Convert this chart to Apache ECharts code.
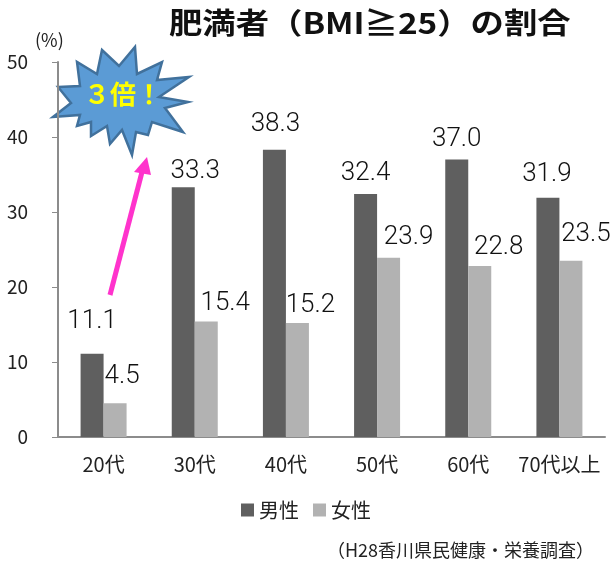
<!DOCTYPE html>
<html>
<head>
<meta charset="utf-8">
<style>html,body{margin:0;padding:0;background:#fff}#main{width:611px;height:565px}</style>
<script src="https://cdn.jsdelivr.net/npm/echarts@6/dist/echarts.min.js"></script>
</head>
<body>
<div id="main"></div>
<script>
let categories = ['20代', '30代', '40代', '50代', '60代', '70代以上'];
let maleValues = [11.1, 33.3, 38.3, 32.4, 37.0, 31.9];
let femaleValues = [4.5, 15.4, 15.2, 23.9, 22.8, 23.5];

// hand placed label nudges, the original labels were moved around by hand
let maleNudge = [[0, -15], [12, 1], [1, -8], [0, -4], [0, -3], [-1, -6]];
let femaleNudge = [[7, -10], [19, -1], [13, -1], [20, -3], [19, -2], [15, -9]];

let font = '"Noto Sans CJK JP"';
let myChart = echarts.init(document.getElementById('main'), null, { renderer: 'canvas' });

function seriesData(values, nudge) {
  return values.map(function (v, i) {
    return { value: v, label: { offset: nudge[i] } };
  });
}

let barLabel = {
  show: true,
  position: 'top',
  distance: 4,
  fontFamily: 'Roboto',
  fontWeight: 300,
  fontSize: 26,
  color: '#111',
  formatter: function (p) { return p.value.toFixed(1); }
};

// star burst outline
let starPoints = [[58, 87], [80, 86], [77, 62], [97, 74], [102, 50], [119, 66], [135, 47], [137, 74],
  [162, 62], [157, 80], [189, 77], [159, 97], [188, 102], [165, 108], [183, 132], [152, 122],
  [148, 135], [136, 132], [132, 155], [122, 130], [110, 144], [107, 126], [91, 136], [91, 122],
  [77, 126], [80, 115], [53, 117], [71, 103]];

let option = {
  animation: false,
  legend: {
    data: ['男性', '女性'],
    left: 241,
    top: 500,
    padding: 0,
    itemWidth: 13,
    itemHeight: 13,
    itemGap: 14,
    icon: 'rect',
    textStyle: { fontFamily: font, fontSize: 20, color: '#222' }
  },
  grid: { left: 58, right: 6, top: 62, bottom: 128 },
  xAxis: {
    type: 'category',
    data: categories,
    axisLine: { lineStyle: { color: '#8c8c8c', width: 2 } },
    axisTick: { length: 6, lineStyle: { color: '#8c8c8c' } },
    axisLabel: { fontFamily: font, fontSize: 20, color: '#222', margin: 17, interval: 0 }
  },
  yAxis: {
    type: 'value',
    min: 0,
    max: 50,
    interval: 10,
    splitLine: { show: false },
    axisLine: { show: true, lineStyle: { color: '#8c8c8c', width: 2 } },
    axisTick: { show: true, length: 6, lineStyle: { color: '#8c8c8c' } },
    axisLabel: { fontFamily: font, fontSize: 19, color: '#222', margin: 30 }
  },
  series: [
    {
      name: '男性', type: 'bar', data: seriesData(maleValues, maleNudge),
      itemStyle: { color: '#5f5f5f' }, barWidth: 23, barGap: '0%', label: barLabel
    },
    {
      name: '女性', type: 'bar', data: seriesData(femaleValues, femaleNudge),
      itemStyle: { color: '#b2b2b2' }, barWidth: 23, barGap: '0%', label: barLabel
    }
  ],
  graphic: [
    { type: 'text', x: 169, y: 8, scaleX: 1.15, style: { text: '肥満者（BMI≧25）の割合', font: 'bold 29px ' + font, fill: '#111' } },
    { type: 'text', x: 35, y: 31, style: { text: '(%)', font: '18px ' + font, fill: '#222' } },
    { type: 'line', shape: { x1: 110, y1: 295, x2: 142, y2: 172 }, style: { stroke: '#ff33cc', lineWidth: 5 } },
    { type: 'polygon', shape: { points: [[147, 157], [134, 172], [151, 175]] }, style: { fill: '#ff33cc' } },
    { type: 'polygon', shape: { points: starPoints }, style: { fill: '#5b9bd5', stroke: '#41719c', lineWidth: 2.5 } },
    { type: 'text', x: 84, y: 81, style: { text: '３倍！', font: 'bold 26px ' + font, fill: '#ffff00' } },
    { type: 'text', x: 327, y: 541, style: { text: '（H28香川県民健康・栄養調査）', font: '18px ' + font, fill: '#222' } }
  ]
};

myChart.setOption(option);
</script>
</body>
</html>
